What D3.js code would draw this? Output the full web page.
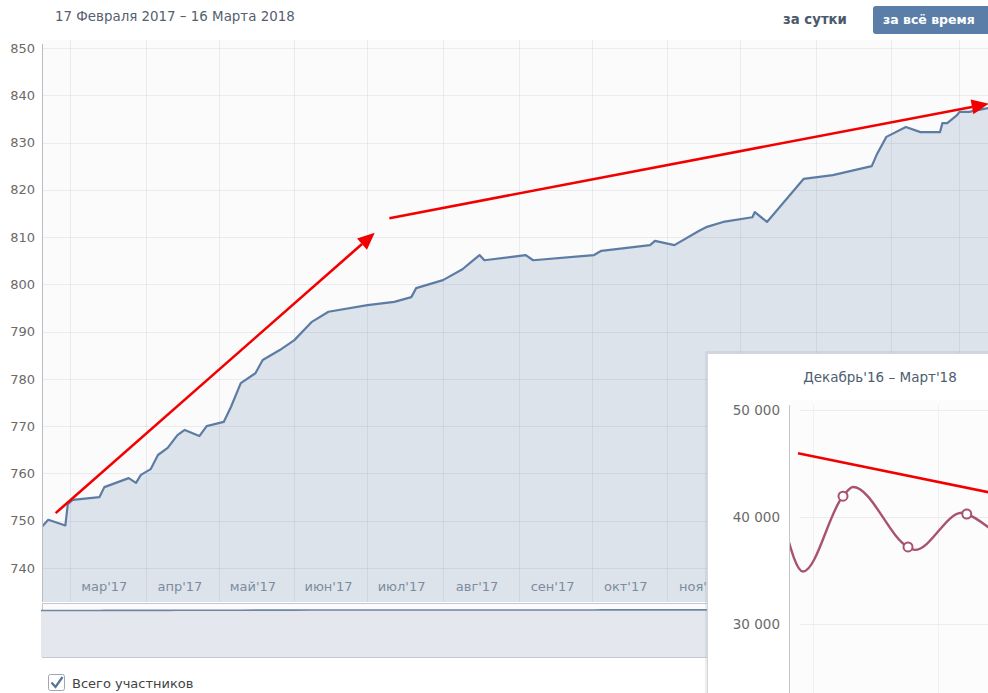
<!DOCTYPE html>
<html><head><meta charset="utf-8">
<script src="https://cdn.jsdelivr.net/npm/d3@7/dist/d3.min.js"></script>
<style>
html,body{margin:0;padding:0;background:#fff;overflow:hidden}
svg{display:block;font-family:"DejaVu Sans",Verdana,sans-serif}
</style></head><body>
<svg id="c" width="988" height="693"></svg>
<script>
// ---------- data ----------
const dates = ["2017-02-17","2017-02-20","2017-02-27","2017-02-28","2017-03-02","2017-03-13","2017-03-15",
 "2017-03-25","2017-03-28","2017-03-30","2017-04-03","2017-04-06","2017-04-10","2017-04-14","2017-04-17",
 "2017-04-23","2017-04-26","2017-05-03","2017-05-06","2017-05-10","2017-05-16","2017-05-19","2017-05-26",
 "2017-06-01","2017-06-08","2017-06-15","2017-07-01","2017-07-12","2017-07-19","2017-07-21","2017-08-01",
 "2017-08-09","2017-08-12","2017-08-16","2017-08-18","2017-09-04","2017-09-07","2017-10-02","2017-10-05",
 "2017-10-25","2017-10-27","2017-11-04","2017-11-14","2017-11-17","2017-11-24","2017-12-06","2017-12-07",
 "2017-12-12","2017-12-27","2018-01-08","2018-01-24","2018-01-26","2018-01-30","2018-02-07","2018-02-13",
 "2018-02-21","2018-02-22","2018-02-24","2018-02-28","2018-03-01","2018-03-05","2018-03-09","2018-03-13","2018-03-16"];
const members = [748.5,750.2,749.0,753.5,754.4,755.0,757.1,
 759.0,758.0,759.7,760.9,763.9,765.4,768.1,769.2,
 767.9,770.0,770.9,774.1,779.1,781.2,784.0,786.1,
 788.2,792.0,794.2,795.6,796.3,797.3,799.2,800.9,
 803.2,804.5,806.2,805.1,806.2,805.1,806.2,807.1,
 808.3,809.2,808.3,811.3,812.1,813.2,814.2,815.3,
 813.2,822.3,823.1,825.0,827.4,831.2,833.3,832.2,
 832.2,834.1,834.1,835.8,836.5,836.5,836.9,837.3,837.8];
const yTicks = [740,750,760,770,780,790,800,810,820,830,840,850];
const monthStarts = ["2017-03-01","2017-04-01","2017-05-01","2017-06-01","2017-07-01","2017-08-01","2017-09-01",
 "2017-10-01","2017-11-01","2017-12-01","2018-01-01","2018-02-01","2018-03-01"];
const monthLabels = ["мар'17","апр'17","май'17","июн'17","июл'17","авг'17","сен'17","окт'17","ноя'17","дек'17","янв'18","фев'18"];
const monthLabelDates = ["2017-03-15","2017-04-15","2017-05-15","2017-06-15","2017-07-15","2017-08-15","2017-09-15",
 "2017-10-15","2017-11-15","2017-12-15","2018-01-15","2018-02-15"];
// annotation arrows (data space)
const arrowStartDates = ["2017-02-23","2017-07-10"];
const arrowStartValues = [751.6, 814.0];
const arrowEndDates = ["2017-07-04","2018-03-13"];
const arrowEndValues = [810.9, 838.2];

// inset
const insetPeriods = [-0.45,-0.16,0.48,0.64,1.52,1.63,2.38,2.46,2.80,3.07];
const insetValues  = [39000,34900,41950,42800,37200,36930,40400,40280,39070,37800];
const insetMarked  = [false,false,true,false,true,false,false,true,false,false];
const insetTicks = [30000,40000,50000];
const insetGrid = [0,2];
const insetTrendPeriods = [-0.24,3.15];
const insetTrendValues = [45950,41900];

// ---------- setup ----------
const parse = d3.timeParse("%Y-%m-%d");
const svg = d3.select("#c");
const W = 988, H = 693;
const plotTop = 40, plotBottom = 602, plotLeft = 42;

const x = d3.scaleTime().domain([parse("2017-02-17"), parse("2018-03-16")]).range([41, 996]);
const y = d3.scaleLinear().domain([732.8, 850]).range([plotBottom, 48]);

const series = dates.map((d,i)=>({d:parse(d), v:members[i]}));

const defs = svg.append("defs");
defs.append("clipPath").attr("id","plotClip").append("rect")
  .attr("x",plotLeft).attr("y",plotTop).attr("width",W-plotLeft).attr("height",plotBottom-plotTop);

svg.append("rect").attr("x",plotLeft).attr("y",plotTop).attr("width",W-plotLeft).attr("height",plotBottom-plotTop)
  .attr("fill","#fbfbfc");

const g = svg.append("g").attr("clip-path","url(#plotClip)");

g.append("path").datum(series)
  .attr("d", d3.area().x(p=>x(p.d)).y0(plotBottom).y1(p=>y(p.v)))
  .attr("fill","#dde3eb");

g.selectAll("line.hg").data(yTicks).join("line")
  .attr("x1",plotLeft).attr("x2",W).attr("y1",t=>Math.round(y(t))+0.5).attr("y2",t=>Math.round(y(t))+0.5)
  .attr("stroke","rgba(120,130,145,0.13)").attr("stroke-width",1);
g.selectAll("line.vg").data(monthStarts).join("line")
  .attr("x1",d=>Math.round(x(parse(d)))+0.5).attr("x2",d=>Math.round(x(parse(d)))+0.5)
  .attr("y1",plotTop).attr("y2",plotBottom)
  .attr("stroke","rgba(120,130,145,0.13)").attr("stroke-width",1);

g.append("path").datum(series)
  .attr("d", d3.line().x(p=>x(p.d)).y(p=>y(p.v)))
  .attr("fill","none").attr("stroke","#5d7ca4").attr("stroke-width",2.2).attr("stroke-linejoin","round");

g.selectAll("text.xl").data(monthLabels).join("text")
  .attr("x",(d,i)=>x(parse(monthLabelDates[i]))).attr("y",591)
  .attr("text-anchor","middle").attr("font-size",13).attr("fill","#7b8ca1").text(d=>d);

svg.append("line").attr("x1",42.5).attr("x2",42.5).attr("y1",44).attr("y2",plotBottom)
  .attr("stroke","#b9bcc0");
svg.selectAll("text.yl").data(yTicks).join("text")
  .attr("x",35).attr("y",t=>y(t)).attr("dy","0.36em").attr("text-anchor","end")
  .attr("font-size",13).attr("fill","#6a6a6a").text(t=>t);

// navigator
const navTop = 603, navBottom = 657;
const yNav = d3.scaleLinear().domain([-4000, 850]).range([navBottom, 609.5]);
const ng = svg.append("g");
ng.append("rect").attr("x",42.5).attr("y",navTop+0.5).attr("width",W).attr("height",navBottom-navTop)
  .attr("fill","#fbfbfc").attr("stroke","#c4c9cf");
ng.append("path").datum(series)
  .attr("d", d3.area().x(p=>x(p.d)).y0(navBottom).y1(p=>yNav(p.v)))
  .attr("fill","#e4e8ee");
ng.append("path").datum(series)
  .attr("d", d3.line().x(p=>x(p.d)).y(p=>yNav(p.v)))
  .attr("fill","none").attr("stroke","#6f85a3").attr("stroke-width",1.6);
ng.append("line").attr("x1",42).attr("x2",W).attr("y1",navBottom+0.5).attr("y2",navBottom+0.5).attr("stroke","#c4c9cf");

// header
svg.append("text").attr("x",55).attr("y",21).attr("font-size",13.4).attr("fill","#55606e")
  .text("17 Февраля 2017 – 16 Марта 2018");
svg.append("text").attr("x",783).attr("y",24).attr("font-size",13.3).attr("font-weight","bold")
  .attr("fill","#4a596c").text("за сутки");
svg.append("rect").attr("x",873).attr("y",6).attr("width",130).attr("height",28).attr("rx",3)
  .attr("fill","#5b7ea8");
svg.append("text").attr("x",883).attr("y",24).attr("font-size",12.5).attr("font-weight","bold")
  .attr("fill","#ffffff").text("за всё время");

// legend checkbox
svg.append("rect").attr("x",48.5).attr("y",674.5).attr("width",16).attr("height",16).attr("rx",2)
  .attr("fill","#fff").attr("stroke","#9ea6b0");
svg.append("path").attr("d","M51.5,682.5 L55.5,687 L62.5,677").attr("fill","none")
  .attr("stroke","#56739a").attr("stroke-width",2.2);
svg.append("text").attr("x",72).attr("y",688).attr("font-size",13).attr("fill","#444")
  .text("Всего участников");

// red arrows (main)
function arrow(sel, x1,y1,x2,y2, w, hl, hw){
  const a = Math.atan2(y2-y1,x2-x1);
  const bx = x2 - hl*Math.cos(a), by = y2 - hl*Math.sin(a);
  sel.append("line").attr("x1",x1).attr("y1",y1).attr("x2",bx).attr("y2",by)
    .attr("stroke","#f20000").attr("stroke-width",w);
  const px = -Math.sin(a)*hw/2, py = Math.cos(a)*hw/2;
  sel.append("path").attr("d",`M${x2},${y2}L${bx+px},${by+py}L${bx-px},${by-py}Z`).attr("fill","#f20000");
}
arrowStartDates.forEach((d,i)=>{
  arrow(svg, x(parse(d)), y(arrowStartValues[i]), x(parse(arrowEndDates[i])), y(arrowEndValues[i]), 2.6, 17, 15);
});

// ---------- inset ----------
const inset = svg.append("g");
const iL = 707, iT = 353;
inset.append("rect").attr("x",iL-1).attr("y",iT-1).attr("width",320).attr("height",400)
  .attr("fill","none").attr("stroke","rgba(150,160,170,0.25)").attr("stroke-width",1.5);
inset.append("rect").attr("x",iL+0.5).attr("y",iT+0.5).attr("width",310).attr("height",360)
  .attr("fill","#ffffff").attr("stroke","#d3d7dc");
const ix = d3.scaleLinear().domain([0,1]).range([813, 875.5]);
const iy = d3.scaleLinear().domain([30000,50000]).range([624, 410]);
defs.append("clipPath").attr("id","insetClip").append("rect")
  .attr("x",790).attr("y",iT+1).attr("width",W-790).attr("height",H-iT);
const ig = inset.append("g").attr("clip-path","url(#insetClip)");
ig.append("rect").attr("x",790).attr("y",400).attr("width",W).attr("height",H).attr("fill","#fcfcfc");
ig.selectAll("line.ih").data(insetTicks).join("line")
  .attr("x1",800).attr("x2",W).attr("y1",t=>Math.round(iy(t))+0.5).attr("y2",t=>Math.round(iy(t))+0.5)
  .attr("stroke","#ececec");
ig.selectAll("line.iv").data(insetGrid).join("line")
  .attr("x1",t=>Math.round(ix(t))+0.5).attr("x2",t=>Math.round(ix(t))+0.5).attr("y1",405).attr("y2",H)
  .attr("stroke","#f0f0f0");
const ipts = insetPeriods.map((t,i)=>({t, v:insetValues[i], m:insetMarked[i]}));
ig.append("path").datum(ipts)
  .attr("d", d3.line().x(p=>ix(p.t)).y(p=>iy(p.v)).curve(d3.curveMonotoneX))
  .attr("fill","none").attr("stroke","#a9526f").attr("stroke-width",2.4);
ig.selectAll("circle").data(ipts.filter(p=>p.m)).join("circle")
  .attr("cx",p=>ix(p.t)).attr("cy",p=>iy(p.v)).attr("r",4.5)
  .attr("fill","#fff").attr("stroke","#a9526f").attr("stroke-width",2);
const trendClip = defs.append("clipPath").attr("id","insetClip2");
trendClip.append("rect").attr("x",iL+1).attr("y",iT+1).attr("width",W).attr("height",H);
inset.append("line").attr("clip-path","url(#insetClip2)")
  .attr("x1",ix(insetTrendPeriods[0])).attr("y1",iy(insetTrendValues[0]))
  .attr("x2",ix(insetTrendPeriods[1])).attr("y2",iy(insetTrendValues[1]))
  .attr("stroke","#f20000").attr("stroke-width",2.6);
inset.append("line").attr("x1",789.5).attr("x2",789.5).attr("y1",405).attr("y2",H).attr("stroke","#c3c6ca");
inset.selectAll("text.iyl").data(insetTicks).join("text")
  .attr("x",780).attr("y",t=>iy(t)).attr("dy","0.36em").attr("text-anchor","end")
  .attr("font-size",13.5).attr("fill","#6a6a6a").text(t=>d3.format(",")(t).replace(/,/g," "));
inset.append("text").attr("x",880).attr("y",382).attr("text-anchor","middle")
  .attr("font-size",13.5).attr("fill","#4e5d70").text("Декабрь'16 – Март'18");
</script>
</body></html>
